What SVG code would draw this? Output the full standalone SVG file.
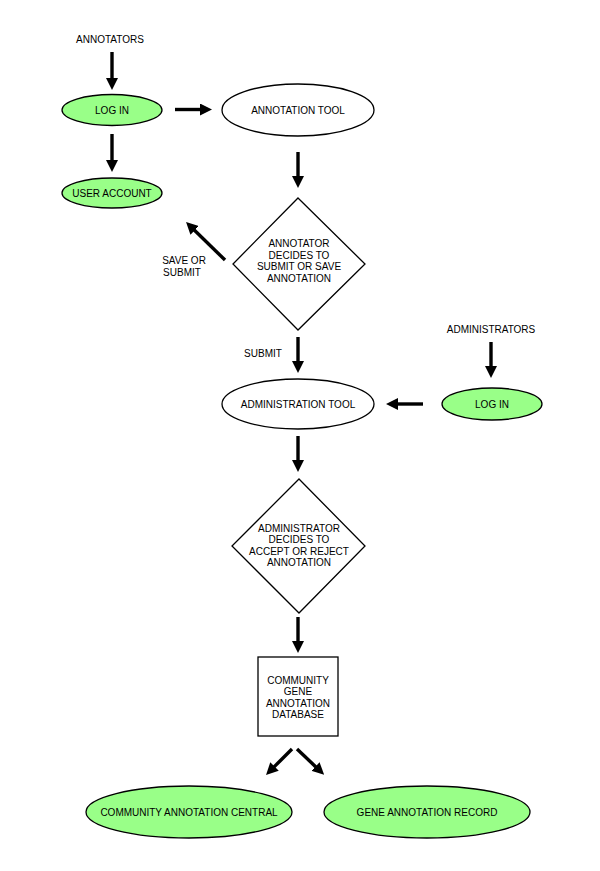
<svg xmlns="http://www.w3.org/2000/svg" width="600" height="871" viewBox="0 0 600 871">
<style>
.t{font-family:"Liberation Sans",Arial,sans-serif;font-size:10px;fill:#000;text-anchor:middle}
.g{fill:#99ff88;stroke:#000;stroke-width:1.3}
.w{fill:#fff;stroke:#000;stroke-width:1.3}
.a{stroke:#000;stroke-width:3.4;fill:none;marker-end:url(#ah)}
</style>
<defs>
<marker id="ah" markerUnits="userSpaceOnUse" markerWidth="12" markerHeight="12" refX="2" refY="6" orient="auto">
<path d="M0,0 L12,6 L0,12 z" fill="#000"/>
</marker>
</defs>
<rect width="600" height="871" fill="#fff"/>
<g id="annotators"><text class="t" x="110" y="42.5">ANNOTATORS</text></g>
<g id="login1"><ellipse class="g" cx="112" cy="110" rx="50" ry="15.5"/><text class="t" x="112" y="113.5">LOG IN</text></g>
<g id="annotation-tool"><ellipse class="w" cx="298" cy="110" rx="76" ry="26"/><text class="t" x="298" y="113.5">ANNOTATION TOOL</text></g>
<g id="user-account"><ellipse class="g" cx="112" cy="193" rx="50" ry="15"/><text class="t" x="112" y="196.5">USER ACCOUNT</text></g>
<g id="decision1"><polygon class="w" points="298,198 365,264 298,330 233,264"/>
<text class="t" x="299" y="247">ANNOTATOR</text><text class="t" x="299" y="258.5">DECIDES TO</text><text class="t" x="299" y="270">SUBMIT OR SAVE</text><text class="t" x="299" y="281.5">ANNOTATION</text></g>
<g id="save-label"><text class="t" x="184" y="263.5">SAVE OR</text><text class="t" x="182" y="275.5">SUBMIT</text></g>
<g id="submit-label"><text class="t" x="263" y="356.5">SUBMIT</text></g>
<g id="administrators"><text class="t" x="491" y="332.5">ADMINISTRATORS</text></g>
<g id="admin-tool"><ellipse class="w" cx="298" cy="404" rx="76" ry="25"/><text class="t" x="298" y="407.5">ADMINISTRATION TOOL</text></g>
<g id="login2"><ellipse class="g" cx="492" cy="404" rx="50" ry="16"/><text class="t" x="492" y="407.5">LOG IN</text></g>
<g id="decision2"><polygon class="w" points="299,479 365,546 299,613 232,546"/>
<text class="t" x="299" y="531.5">ADMINISTRATOR</text><text class="t" x="299" y="543">DECIDES TO</text><text class="t" x="299" y="554.5">ACCEPT OR REJECT</text><text class="t" x="299" y="566">ANNOTATION</text></g>
<g id="database"><rect class="w" x="258" y="657" width="80" height="79"/>
<text class="t" x="298" y="683.5">COMMUNITY</text><text class="t" x="298" y="695">GENE</text><text class="t" x="298" y="706.5">ANNOTATION</text><text class="t" x="298" y="718">DATABASE</text></g>
<g id="cac"><ellipse class="g" cx="189" cy="812" rx="103" ry="26"/><text class="t" x="189" y="815.5">COMMUNITY ANNOTATION CENTRAL</text></g>
<g id="gar"><ellipse class="g" cx="427" cy="812" rx="103" ry="26"/><text class="t" x="427" y="815.5">GENE ANNOTATION RECORD</text></g>
<g id="connectors">
<line class="a" x1="112" y1="52" x2="112" y2="80"/>
<line class="a" x1="112" y1="134" x2="112" y2="162"/>
<line class="a" x1="175" y1="109.5" x2="202" y2="109.5"/>
<line class="a" x1="298" y1="152" x2="298" y2="178"/>
<line class="a" x1="225" y1="260" x2="193.2" y2="229"/>
<line class="a" x1="298" y1="337" x2="298" y2="363"/>
<line class="a" x1="491" y1="342" x2="491" y2="368"/>
<line class="a" x1="423" y1="404" x2="396" y2="404"/>
<line class="a" x1="298" y1="436" x2="298" y2="462"/>
<line class="a" x1="298" y1="617" x2="298" y2="643"/>
<line class="a" x1="292" y1="749" x2="273.1" y2="767.9"/>
<line class="a" x1="297" y1="749" x2="316.9" y2="767.9"/>
</g>
</svg>
